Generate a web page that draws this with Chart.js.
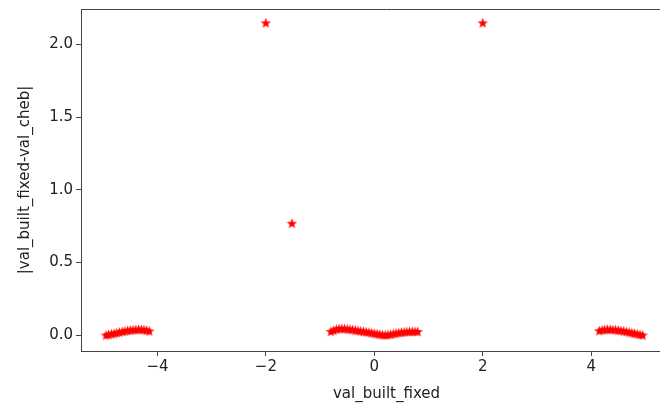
<!DOCTYPE html>
<html>
<head>
<meta charset="utf-8">
<script src="https://cdn.jsdelivr.net/npm/chart.js@4"></script>
<style>
html,body{margin:0;padding:0;background:#fff;overflow:hidden;}
#wrap{width:660px;height:406px;position:relative;overflow:hidden;}
</style>
</head>
<body>
<div id="wrap"><canvas id="c" width="692" height="406"></canvas></div>
<script>
// x values (val_built_fixed) and y values (|val_built_fixed-val_cheb|)
const leftX = [-4.95,-4.90,-4.85,-4.80,-4.75,-4.70,-4.65,-4.60,-4.55,-4.50,-4.45,-4.40,-4.35,-4.30,-4.25,-4.20,-4.15];
const leftY = [0.000,0.004,0.008,0.012,0.016,0.020,0.024,0.028,0.031,0.034,0.036,0.038,0.039,0.039,0.037,0.033,0.028];
const midX = [-0.80,-0.75,-0.70,-0.65,-0.60,-0.55,-0.50,-0.45,-0.40,-0.35,-0.30,-0.25,-0.20,-0.15,-0.10,-0.05,0.00,0.05,0.10,0.15,0.20,0.25,0.30,0.35,0.40,0.45,0.50,0.55,0.60,0.65,0.70,0.75,0.80];
const midY = [0.025,0.033,0.040,0.044,0.045,0.044,0.042,0.040,0.037,0.034,0.031,0.028,0.025,0.022,0.019,0.015,0.012,0.008,0.005,0.002,0.001,0.002,0.005,0.009,0.013,0.016,0.019,0.021,0.023,0.024,0.025,0.025,0.024];
const rightX = [4.15,4.20,4.25,4.30,4.35,4.40,4.45,4.50,4.55,4.60,4.65,4.70,4.75,4.80,4.85,4.90,4.95];
const rightY = [0.030,0.035,0.038,0.039,0.039,0.038,0.036,0.034,0.031,0.028,0.024,0.020,0.016,0.012,0.008,0.004,0.000];
const outX = [-2.00,-1.52,2.00];
const outY = [2.15,0.77,2.15];
const xTicks = [-4,-2,0,2,4];
const yTicks = [0.0,0.5,1.0,1.5,2.0];

function pts(xs, ys){ return xs.map((x,i)=>({x:x,y:ys[i]})); }
const allPoints = [].concat(pts(leftX,leftY), pts(outX,outY), pts(midX,midY), pts(rightX,rightY));

// filled 5-point star marker
function makeStar(size, color){
  const c = document.createElement('canvas');
  c.width = size; c.height = size;
  const g = c.getContext('2d');
  const cx = size/2, cy = size/2 + size*0.05;
  const R = size/2, r = R*0.42;
  g.beginPath();
  for(let i=0;i<10;i++){
    const a = -Math.PI/2 + i*Math.PI/5;
    const rad = (i%2===0)?R:r;
    const px = cx + rad*Math.cos(a), py = cy + rad*Math.sin(a);
    if(i===0) g.moveTo(px,py); else g.lineTo(px,py);
  }
  g.closePath();
  g.fillStyle = color; g.fill();
  return c;
}
const star = makeStar(11, '#ff0000');

const topBorder = {
  id:'topBorder',
  afterDatasetsDraw(chart){
    const {ctx, chartArea:a} = chart;
    ctx.save();
    ctx.strokeStyle = '#444'; ctx.lineWidth = 1;
    ctx.beginPath(); ctx.moveTo(a.left, a.top+0.5); ctx.lineTo(a.right, a.top+0.5); ctx.stroke();
    ctx.restore();
  }
};

const axisColor = '#444';
const tickFont = {family:'DejaVu Sans', size:15};
new Chart(document.getElementById('c'), {
  type:'scatter',
  data:{datasets:[{data:allPoints, pointStyle:star, pointRadius:5, pointHoverRadius:5, backgroundColor:'#ff0000', borderColor:'#ff0000'}]},
  options:{
    responsive:false, animation:false,
    layout:{autoPadding:false, padding:{top:9,right:0,left:0,bottom:0}},
    plugins:{legend:{display:false}, tooltip:{enabled:false}},
    scales:{
      x:{type:'linear', min:-5.41, max:5.86,
        afterBuildTicks(s){ s.ticks = xTicks.map(v=>({value:v})); },
        afterFit(s){ s.height = 55; s.paddingLeft = 0; s.paddingRight = 0; },
        ticks:{color:'#222', font:tickFont, padding:2, maxRotation:0, callback:v=>(v<0?'\u2212':'')+Math.abs(v)},
        grid:{drawOnChartArea:false, drawTicks:true, tickLength:5, color:axisColor},
        border:{display:true, color:axisColor, width:1},
        title:{display:true, text:'val_built_fixed', color:'#222', font:tickFont, padding:{top:0,bottom:3}}
      },
      y:{type:'linear', min:-0.11, max:2.245,
        afterBuildTicks(s){ s.ticks = yTicks.map(v=>({value:v})); },
        afterFit(s){ s.width = 81; s.paddingTop = 0; s.paddingBottom = 0; },
        ticks:{color:'#222', font:tickFont, padding:3, callback:v=>v.toFixed(1)},
        grid:{drawOnChartArea:false, drawTicks:true, tickLength:5, color:axisColor},
        border:{display:true, color:axisColor, width:1},
        title:{display:true, text:'|val_built_fixed-val_cheb|', color:'#222', font:tickFont, padding:{top:16,bottom:0}}
      }
    }
  },
  plugins:[topBorder]
});
</script>
</body>
</html>
